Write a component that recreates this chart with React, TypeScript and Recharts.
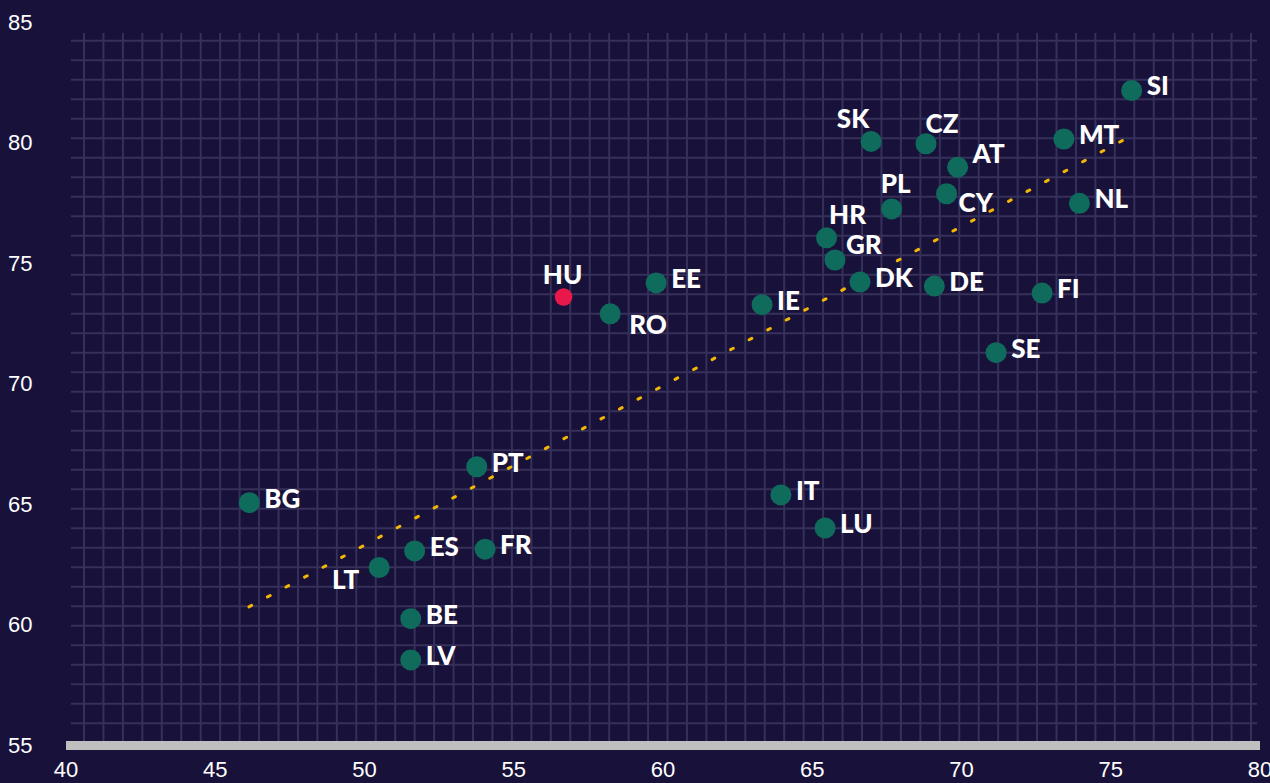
import {
  ScatterChart, Scatter, XAxis, YAxis, CartesianGrid, ReferenceLine,
} from 'recharts'

const countries = ['SI', 'MT', 'SK', 'CZ', 'AT', 'CY', 'PL', 'NL', 'HR', 'GR', 'DK', 'DE', 'FI', 'EE', 'HU', 'RO', 'IE', 'SE', 'PT', 'BG', 'IT', 'LU', 'ES', 'FR', 'LT', 'BE', 'LV']
const xValues = [75.7, 73.43, 66.97, 68.81, 69.87, 69.5, 67.66, 73.95, 65.48, 65.76, 66.6, 69.09, 72.7, 59.77, 56.67, 58.23, 63.32, 71.16, 53.76, 46.14, 63.95, 65.43, 51.68, 54.04, 50.49, 51.55, 51.55]
const yValues = [82.16, 80.15, 80.05, 79.95, 78.98, 77.88, 77.25, 77.48, 76.05, 75.13, 74.22, 74.05, 73.76, 74.18, 73.6, 72.9, 73.28, 71.29, 66.56, 65.07, 65.39, 64.02, 63.07, 63.14, 62.38, 60.26, 58.55]
const highlight = 'HU'

const xTicks = [40, 45, 50, 55, 60, 65, 70, 75, 80]
const yTicks = [55, 60, 65, 70, 75, 80, 85]

// fitted trend, start and end
const trendX = [46.13, 75.64]
const trendY = [60.75, 80.25]

const data = countries.map((name, i) => ({ name, x: xValues[i], y: yValues[i] }))

// label placement: [dx, dy, anchor]
const labelPos: Record<string, [number, number, string]> = {
  SK: [-18, -23, 'middle'],
  CZ: [16, -21, 'middle'],
  PL: [4, -26, 'middle'],
  HR: [21, -24, 'middle'],
  HU: [-1, -23, 'middle'],
  AT: [15, -14, 'start'],
  CY: [12, 8, 'start'],
  GR: [11, -16, 'start'],
  RO: [19, 10, 'start'],
  LT: [-20, 11, 'end'],
}

const BG = '#18123a'
const GRID = '#36315a'
const GREEN = '#0f6b5c'
const RED = '#e8194a'

// decorative square grid
const hLines = Array.from({ length: 36 }, (_, i) => 40.7 + i * 19.5)
const vLines = Array.from({ length: 61 }, (_, i) => 84 + i * 19.45)

const Dot = (props: any) => {
  const { cx, cy, payload } = props
  const hi = payload.name === highlight
  const [dx, dy, anchor] = labelPos[payload.name] ?? [15, -5, 'start']
  return (
    <g>
      <circle cx={cx} cy={cy} r={hi ? 8.8 : 10.5} fill={hi ? RED : GREEN} />
      <text
        x={cx + dx}
        y={cy + dy}
        textAnchor={anchor as any}
        dominantBaseline="central"
        fill="#fff"
        fontFamily="Lato, 'Open Sans', sans-serif"
        fontWeight={900}
        fontSize={26}
      >
        {payload.name}
      </text>
    </g>
  )
}

const XTick = ({ x, payload }: any) => (
  <text x={x} y={769} textAnchor="middle" dominantBaseline="central" fill="#fff" fontSize={22} fontFamily="'Liberation Sans', Arial, sans-serif">
    {payload.value}
  </text>
)

const YTick = ({ y, payload }: any) => (
  <text x={8} y={y} textAnchor="start" dominantBaseline="central" fill="#fff" fontSize={22} fontFamily="'Liberation Sans', Arial, sans-serif">
    {payload.value}
  </text>
)

export default function App() {
  return (
    <div style={{ width: 1270, height: 783, background: BG, overflow: 'hidden' }}>
      <style>{'body{margin:0;background:' + BG + '}'}</style>
      <ScatterChart width={1270} height={783} margin={{ top: 22, right: 10, bottom: 0, left: 0 }}>
        <CartesianGrid
          x={71}
          y={33}
          width={1186}
          height={708}
          horizontalPoints={hLines}
          verticalPoints={vLines}
          stroke={GRID}
          strokeWidth={2}
        />
        <XAxis
          type="number"
          dataKey="x"
          domain={[40, 80]}
          ticks={xTicks}
          height={37.5}
          axisLine={{ stroke: '#bfbfbf', strokeWidth: 9 }}
          tickLine={false}
          tick={<XTick />}
        />
        <YAxis
          type="number"
          dataKey="y"
          domain={[55, 85]}
          ticks={yTicks}
          width={66}
          axisLine={false}
          tickLine={false}
          tick={<YTick />}
        />
        <ReferenceLine
          segment={[{ x: trendX[0], y: trendY[0] }, { x: trendX[1], y: trendY[1] }]}
          stroke="#f2b705"
          strokeWidth={3}
          strokeDasharray="3 18"
          strokeLinecap="round"
          ifOverflow="visible"
        />
        <Scatter data={data} shape={<Dot />} isAnimationActive={false} />
      </ScatterChart>
    </div>
  )
}
